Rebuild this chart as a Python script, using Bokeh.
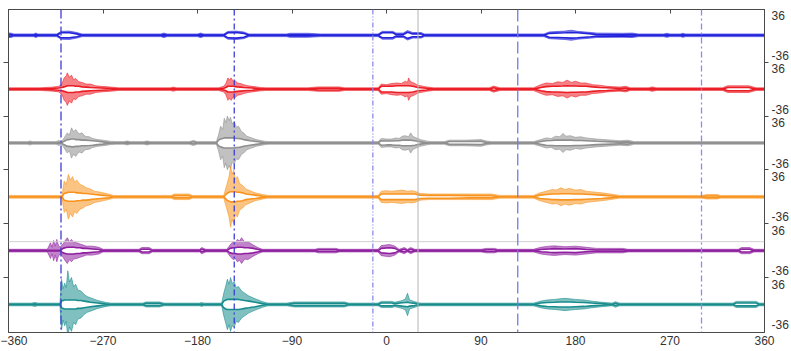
import numpy as np
from bokeh.plotting import figure
from bokeh.models import Range1d, LinearAxis, FixedTicker, Span
from bokeh.embed import file_html
from bokeh.resources import INLINE

# ---------------- data ----------------
x_ticks = [-360, -270, -180, -90, 0, 90, 180, 270, 360]
amp_label = 36  # right-axis labels of each track: +36 / -36

track_names = ["blue", "red", "gray", "orange", "purple", "teal"]
track_colors = ["#2323dc", "#ec1c24", "#8e8e8e", "#f7931e", "#8e1f9e", "#188c8c"]

# envelope key points per track: position (deg), outer envelope, inner (hollow) envelope
blue_x = [-360, -358, -355, -336, -334, -332, -314, -310, -302, -295,
          -290, -215, -212, -209, -180, -177, -174, -155, -151, -143,
          -136, -131, -95, -92, -75, -63, -8, -4, 6, 9,
          16, 20, 25, 33, 36, 150, 155, 170, 176, 182,
          195, 200, 225, 234, 240, 264, 267, 270, 280, 282,
          285, 360]
blue_outer = [4, 4, 2.4, 2.4, 4, 2.4, 2.4, 7, 7.5, 5,
              2.4, 2.4, 4, 2.4, 2.4, 4, 2.4, 2.4, 7, 7.5,
              6, 2.4, 2.4, 3.6, 3.6, 2.4, 2.4, 7, 7, 4,
              4, 8.5, 5, 5, 2.4, 2.4, 6, 7.5, 9, 7,
              5, 4, 3.6, 4, 2.4, 2.4, 3.6, 2.4, 2.4, 3.6,
              2.4, 2.4]
blue_inner = [1.5, 1.5, 0, 0, 1.5, 0, 0, 4.5, 4.5, 2.5,
              0, 0, 1.5, 0, 0, 1.5, 0, 0, 4.5, 5,
              3.5, 0, 0, 1, 1, 0, 0, 4.5, 4.5, 1.5,
              1.5, 5.5, 2.5, 2.5, 0, 0, 3.5, 4.5, 5, 4.5,
              2.5, 1.5, 1, 1.5, 0, 0, 1, 0, 0, 1,
              0, 0]

red_x = [-360, -330, -318, -312, -309, -307, -305, -304, -302, -300,
         -298, -296, -293, -290, -286, -282, -277, -272, -262, -255,
         -206, -203, -200, -160, -155, -153, -151, -150, -148, -146,
         -144, -142, -139, -136, -132, -128, -120, -115,
         -75, -65, -45, -40, -8, -5, 0, 5, 10, 14,
         18, 20, 21, 23, 25, 30, 38, 45,
         98, 102, 108, 140, 147, 152, 158, 163, 168, 172,
         176, 180, 185, 190, 196, 203, 210, 222, 228, 232,
         250, 253, 257, 320, 325, 345, 352, 360]
red_outer = [2.4, 2.4, 3.6, 5, 10, 20, 24, 29, 21, 25,
             17, 19, 13, 12, 9, 9, 6, 5, 3.6, 2.4,
             2.4, 3.6, 2.4, 2.4, 5, 10, 20, 16, 20, 14,
             15, 11, 10, 8, 6, 5, 3, 2.4,
             2.4, 4, 4, 2.4, 2.4, 9, 8, 10, 11, 10,
             14, 12, 20, 13, 12, 7, 4, 2.4,
             2.4, 5.4, 2.4, 2.4, 8, 11, 10, 13, 12, 16,
             12, 14, 11, 11, 8, 7, 5, 3.6, 5, 2.4,
             2.4, 4, 2.4, 2.4, 6, 6, 2.4, 2.4]
red_inner = [0, 0, 1, 2, 3, 4, 5, 6, 6, 6,
             6, 5, 5, 4, 3.5, 3, 2.5, 2, 1, 0,
             0, 1, 0, 0, 1.5, 3, 5, 5, 5, 5,
             4.5, 4, 3.5, 3, 2.5, 2, 0.5, 0,
             0, 1.5, 1.5, 0, 0, 5, 5, 5, 6, 6,
             6, 6, 6, 5.5, 5, 3, 1.5, 0,
             0, 2.5, 0, 0, 3, 4.5, 5, 5, 5.5, 6,
             5.5, 5.5, 5, 5, 4, 3, 2.5, 1, 2, 0,
             0, 1.5, 0, 0, 3, 3, 0, 0]

gray_x = [-360, -342, -340, -337, -315, -312, -310, -308, -306, -304,
          -302, -300, -298, -296, -293, -290, -287, -283, -280, -275,
          -270, -263, -258,
          -250, -247, -244, -231, -228, -225, -188, -184, -180,
          -162, -160, -158, -156, -154.5, -153, -151.5, -150, -148.5, -147,
          -145, -143, -141, -138, -136, -133, -130, -124, -116, -112,
          -8, -5, 0, 5, 9, 12, 15, 18, 21, 23,
          25, 27, 32, 38, 42,
          55, 60, 75, 90, 95, 100,
          140, 147, 152, 157, 161, 165, 168, 171, 175, 180,
          185, 190, 200, 215, 222, 230, 236, 360]
gray_outer = [2.4, 2.4, 3.6, 2.4, 2.4, 4.5, 2.4, 6, 12, 18,
              14, 27, 20, 24, 16, 18, 12, 11, 8, 6,
              5, 3, 2.4,
              2.4, 3.6, 2.4, 2.4, 3.6, 2.4, 2.4, 4.5, 2.4,
              2.4, 14, 30, 24, 44, 36, 48, 40, 46, 34,
              38, 28, 30, 20, 18, 12, 10, 6, 3, 2.4,
              2.4, 8, 7, 7, 9, 8, 12, 13, 11, 18,
              12, 10, 6, 3.6, 2.4,
              2.4, 5, 5, 6, 3.6, 2.4,
              2.4, 6, 9, 8, 12, 11, 17, 12, 13, 10,
              11, 9, 7, 5, 4, 5, 2.4, 2.4]
gray_inner = [0, 0, 1, 0, 0, 1, 0, 2, 4, 6,
              6, 7, 7, 6, 6, 5, 5, 4.5, 4, 3,
              2, 0.5, 0,
              0, 1.5, 0, 0, 1.5, 0, 0, 2, 0,
              0, 5, 7, 8, 9, 9, 9, 9, 9, 9,
              9, 8, 8, 7, 6, 5, 4, 2.5, 0.5, 0,
              0, 4, 3.5, 3.5, 4, 4, 5, 5, 5, 5,
              4.5, 4, 2, 0.5, 0,
              0, 2.5, 2.5, 3, 1, 0,
              0, 2.5, 4, 4.5, 5, 5, 5, 5, 5, 4.5,
              4.5, 4, 3, 2, 1.5, 2, 0, 0]

orange_x = [-360, -309, -307, -305, -303, -301, -299, -297, -295, -292,
            -289, -286, -282, -278, -272, -265, -260,
            -205, -202, -188, -185,
            -155, -152, -150, -148.5, -147, -145.5, -144, -142, -140, -137,
            -134, -130, -125, -118, -113,
            -8, -5, 0, 5, 10, 15, 20, 24, 27, 32,
            40, 60, 80, 100, 108,
            140, 146, 152, 158, 162, 166, 170, 174, 180, 185,
            190, 195, 205, 215, 222,
            300, 305, 315, 318, 360]
orange_outer = [2.4, 2.4, 28, 22, 40, 30, 36, 26, 30, 22,
                20, 16, 14, 10, 8, 5, 2.4,
                2.4, 5, 5, 2.4,
                2.4, 22, 36, 54, 40, 48, 32, 36, 24, 20,
                14, 11, 7, 4, 2.4,
                2.4, 10, 11, 10, 11, 12, 10, 11, 10, 6,
                5, 5, 5, 5, 2.4,
                2.4, 7, 10, 13, 12, 16, 13, 15, 12, 13,
                10, 9, 7, 4.5, 2.4,
                2.4, 4, 4, 2.4, 2.4]
orange_inner = [0, 0, 6, 7, 8, 8, 8, 8, 7, 7,
                6, 6, 5, 4, 3, 2, 0,
                0, 2, 2, 0,
                0, 6, 8, 9, 9, 9, 9, 8, 8, 7,
                5, 4, 3, 1, 0,
                0, 5, 5, 5, 5, 5, 5, 5, 5, 3,
                2.5, 2.5, 2, 2, 0,
                0, 3, 4, 5, 5, 5.5, 5.5, 5.5, 5, 5,
                4.5, 4, 3, 1.5, 0,
                0, 1.5, 1.5, 0, 0]

purple_x = [-360, -323, -320, -318.5, -317, -315.5, -314, -312.5, -311, -308,
            -306, -304, -302, -300, -298, -295, -292, -289, -286, -280,
            -274, -270,
            -236, -233, -226, -223, -178, -176, -172,
            -152, -149, -146, -144, -142, -140, -138, -135, -132, -127,
            -122, -118,
            -68, -65, -48, -45,
            -8, -5, 3, 8, 12, 17, 20, 23, 27,
            90, 95, 103, 106,
            140, 147, 155, 160, 170, 180, 190, 200, 225, 230,
            335, 338, 346, 350, 360]
purple_outer = [2.4, 2.4, 14, 6, 18, 8, 20, 10, 6, 12,
                18, 23, 16, 20, 15, 14, 12, 10, 8, 8,
                6, 2.4,
                2.4, 5.5, 5.5, 2.4, 2.4, 5.5, 2.4,
                2.4, 10, 16, 14, 20, 17, 23, 15, 16, 10,
                5, 2.4,
                2.4, 4, 4, 2.4,
                2.4, 9, 11, 8, 2.4, 5.5, 2.4, 5.5, 2.4,
                2.4, 4, 4, 2.4,
                2.4, 6, 8, 8.5, 7, 8, 6, 4, 4, 2.4,
                2.4, 5.5, 5.5, 2.4, 2.4]
purple_inner = [0, 0, 0, 0, 0, 0, 0, 0, 0, 4,
                5, 6, 6, 6, 6, 5, 5, 4, 4, 3,
                2, 0,
                0, 2.5, 2.5, 0, 0, 2.5, 0,
                0, 4, 5, 5, 6, 6, 6, 5, 5, 4,
                2, 0,
                0, 1.5, 1.5, 0,
                0, 4, 5, 4, 0, 2.5, 0, 2.5, 0,
                0, 1.5, 1.5, 0,
                0, 2, 3, 3.5, 3, 3.5, 2, 1, 1.5, 0,
                0, 2.5, 2.5, 0, 0]

teal_x = [-360, -338, -335, -332, -311, -309.5, -308, -306.5, -305, -303.5,
          -302, -300, -298, -296, -294, -291, -288, -285, -282, -275,
          -268, -263,
          -232, -229, -216, -212, -178, -176, -174,
          -157, -155, -153, -151.5, -150, -148.5, -147, -145, -143, -141,
          -138, -135, -131, -125, -118, -113,
          -95, -88, -40, -36,
          -8, -5, 5, 8, 15, 18, 20, 22, 27, 32,
          140, 147, 153, 160, 165, 170, 175, 180, 188, 195,
          205, 215, 218, 222,
          330, 333, 352, 355, 360]
teal_outer = [2.4, 2.4, 3.6, 2.4, 2.4, 45, 28, 38, 30, 60,
              40, 48, 32, 36, 26, 24, 18, 14, 12, 7,
              4, 2.4,
              2.4, 4.5, 4.5, 2.4, 2.4, 3.6, 2.4,
              2.4, 20, 34, 45, 36, 48, 38, 40, 30, 32,
              24, 20, 15, 10, 5, 2.4,
              2.4, 4.5, 4.5, 2.4,
              2.4, 5.5, 5.5, 4, 7, 10, 20, 8, 5, 2.4,
              2.4, 6, 8, 9, 10, 11, 10, 9, 8, 6,
              4, 2.4, 5, 2.4,
              2.4, 5.5, 5.5, 2.4, 2.4]
teal_inner = [0, 0, 1, 0, 0, 6, 7, 8, 8, 8,
              8, 8, 8, 8, 7, 7, 6, 5, 4, 2.5,
              1, 0,
              0, 2, 2, 0, 0, 1, 0,
              0, 6, 8, 9, 9, 9, 9, 9, 9, 9,
              8, 7, 6, 4, 1.5, 0,
              0, 2, 2, 0,
              0, 2.5, 2.5, 1.5, 3, 3.5, 4, 3, 2, 0,
              0, 2.5, 3.5, 4, 4.5, 4.5, 4.5, 4, 3.5, 2.5,
              1.5, 0, 2, 0,
              0, 2.5, 2.5, 0, 0]

# reference markers (deg)
marker_x = [-310, -145, -13, 125, 300]
ref_x = 30             # thin solid gray vertical line
ref_level_purple = 16  # thin gray horizontal line, in purple-track units

tracks_x = [blue_x, red_x, gray_x, orange_x, purple_x, teal_x]
tracks_outer = [blue_outer, red_outer, gray_outer, orange_outer, purple_outer, teal_outer]
tracks_inner = [blue_inner, red_inner, gray_inner, orange_inner, purple_inner, teal_inner]

# ---------------- layout / style ----------------
spacing = 96
n = len(track_names)
centers = [(n - 1 - i) * spacing for i in range(n)]
boundaries = [c + spacing / 2 for c in centers[1:]]

FONT = "Liberation Sans"
AX = "#4a4a4a"

p = figure(width=791, height=351, output_backend="svg", toolbar_location=None,
           x_range=Range1d(-360, 360), y_range=Range1d(-50, (n - 1) * spacing + 46),
           min_border_left=8, min_border_right=26, min_border_top=9, min_border_bottom=19,
           background_fill_color="white", border_fill_color="white")
p.xgrid.visible = False
p.ygrid.visible = False
p.outline_line_color = AX

# bottom axis
p.xaxis.ticker = FixedTicker(ticks=x_ticks)
p.xaxis.major_tick_in = 0
p.xaxis.major_tick_out = 0
p.xaxis.minor_tick_line_color = None
p.xaxis.major_label_standoff = 3
p.xaxis.major_label_text_font = FONT
p.xaxis.major_label_text_font_size = "12px"
p.xaxis.major_label_text_color = "#333333"
p.xaxis.axis_line_color = AX

# left axis: ticks at track boundaries only (no labels)
p.yaxis.ticker = FixedTicker(ticks=[], minor_ticks=boundaries)
p.yaxis.minor_tick_out = 5
p.yaxis.minor_tick_in = 0
p.yaxis.major_tick_out = 0
p.yaxis.major_label_standoff = 0
p.yaxis.minor_tick_line_color = AX
p.yaxis.axis_line_color = AX

# top axis: ticks only
top = LinearAxis(ticker=FixedTicker(ticks=[], minor_ticks=x_ticks),
                 minor_tick_in=4, minor_tick_out=0, major_tick_out=0,
                 major_label_standoff=0,
                 minor_tick_line_color=AX, axis_line_color=AX)
p.add_layout(top, "above")

# right axis: +-36 labels per track, boundary ticks as minor ticks
label_pos = []
overrides = {}
for c in centers:
    label_pos += [c + amp_label, c - amp_label]
    overrides[c + amp_label] = str(amp_label)
    overrides[c - amp_label] = str(-amp_label)
right = LinearAxis(ticker=FixedTicker(ticks=label_pos, minor_ticks=boundaries),
                   major_tick_in=0, major_tick_out=0, minor_tick_in=0, minor_tick_out=4,
                   major_label_overrides=overrides, major_label_standoff=3,
                   major_label_text_font=FONT, major_label_text_font_size="12px",
                   major_label_text_color="#333333", axis_line_color=AX,
                   minor_tick_line_color=AX)
p.add_layout(right, "right")

# reference lines
p.add_layout(Span(location=ref_x, dimension="height", line_color="#b4b4b4", line_width=1))
p.add_layout(Span(location=centers[4] + ref_level_purple, dimension="width",
                  line_color="#d0d0d0", line_width=1))
marker_colors = ["#3d3dd6", "#3d3dd6", "#8a8ae8", "#7878e6", "#8a8ae8"]
marker_dash = ["9 3 2 3", "6 3 2 3", "5 2 1 2 1 2", "12 4", "6 3 2 3"]
for mx, mc, md in zip(marker_x, marker_colors, marker_dash):
    p.add_layout(Span(location=mx, dimension="height", line_color=mc,
                      line_dash=md, line_width=1.3))

# traces
for c, col, xs, outer, inner in zip(centers, track_colors, tracks_x, tracks_outer, tracks_inner):
    xs = np.array(xs, dtype=float)
    o = np.array(outer, dtype=float)
    q = np.array(inner, dtype=float)
    p.varea(x=xs, y1=c + q, y2=c + o, fill_color=col, fill_alpha=0.55)
    p.varea(x=xs, y1=c - o, y2=c - q, fill_color=col, fill_alpha=0.55)
    p.line(xs, c + o, line_color=col, line_width=0.8, line_alpha=0.7)
    p.line(xs, c - o, line_color=col, line_width=0.8, line_alpha=0.7)
    p.line(xs, c + q, line_color=col, line_width=1.6)
    p.line(xs, c - q, line_color=col, line_width=1.6)

open("out.html", "w").write(file_html(p, INLINE))
